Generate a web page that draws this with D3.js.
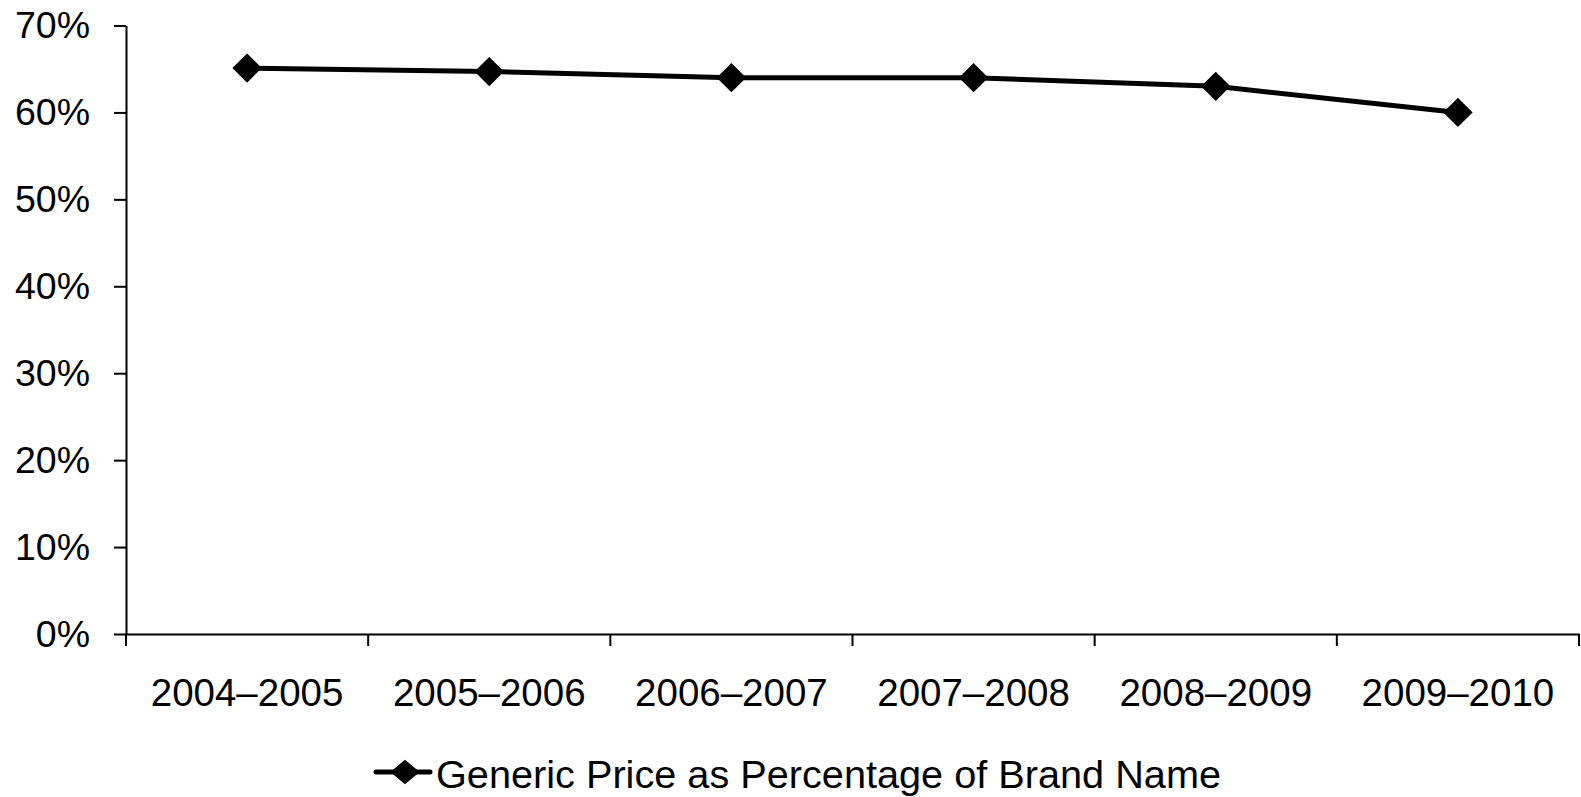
<!DOCTYPE html>
<html>
<head>
<meta charset="utf-8">
<script src="https://cdn.jsdelivr.net/npm/d3@7/dist/d3.min.js"></script>
<style>
  html, body { margin: 0; padding: 0; background: #fff; }
  svg { display: block; font-family: "Liberation Sans", Arial, sans-serif; }
</style>
</head>
<body>
<svg id="chart" width="1581" height="797"></svg>
<script>
const categories = ["2004–2005", "2005–2006", "2006–2007", "2007–2008", "2008–2009", "2009–2010"];
const values = [0.651, 0.647, 0.640, 0.640, 0.630, 0.600];
const yTicks = [0, 0.1, 0.2, 0.3, 0.4, 0.5, 0.6, 0.7];
const seriesName = "Generic Price as Percentage of Brand Name";

(function () {
const svg = d3.select("#chart");
const mLeft = 126, mRight = 1579, mTop = 25.5, mBottom = 634;

const x = d3.scaleBand().domain(categories).range([mLeft, mRight]);
const y = d3.scaleLinear().domain([0, 0.7]).range([mBottom, mTop]);

// Y axis
const yAxis = svg.append("g")
  .attr("transform", `translate(${mLeft},0)`)
  .call(d3.axisLeft(y).tickValues(yTicks).tickFormat(d3.format(".0%")).tickSize(12).tickSizeOuter(0).tickPadding(24));
yAxis.selectAll("text").attr("font-size", 37.5).attr("fill", "#000").attr("font-family", "Liberation Sans, Arial, sans-serif");
yAxis.selectAll("line").attr("stroke", "#000").attr("stroke-width", 2);
yAxis.select(".domain").attr("stroke", "#000").attr("stroke-width", 2);

// X axis (labels at band centres, no ticks)
const xAxis = svg.append("g")
  .attr("transform", `translate(0,${mBottom})`)
  .call(d3.axisBottom(x).tickSize(0).tickSizeOuter(0).tickPadding(45));
xAxis.selectAll("text").attr("font-size", 38.5).attr("fill", "#000").attr("font-family", "Liberation Sans, Arial, sans-serif");
xAxis.select(".domain").attr("stroke", "#000").attr("stroke-width", 2);

// Boundary ticks on x axis
const bounds = categories.map(c => x(c)).concat([x.range()[1]]);
svg.append("g").selectAll("line").data(bounds).join("line")
  .attr("x1", d => d).attr("x2", d => d)
  .attr("y1", mBottom).attr("y2", mBottom + 12)
  .attr("stroke", "#000").attr("stroke-width", 2);

// Line
const cx = c => x(c) + x.bandwidth() / 2;
const line = d3.line().x((d, i) => cx(categories[i])).y(d => y(d));
svg.append("path").datum(values)
  .attr("d", line)
  .attr("fill", "none").attr("stroke", "#000").attr("stroke-width", 5).attr("stroke-linejoin", "round");

// Diamonds
const diamond = d3.symbol().type(d3.symbolDiamond2).size(550);
svg.append("g").selectAll("path").data(values).join("path")
  .attr("d", diamond)
  .attr("transform", (d, i) => `translate(${cx(categories[i])},${y(d)})`)
  .attr("fill", "#000");

// Legend
const lg = svg.append("g");
lg.append("line").attr("x1", 376).attr("x2", 430).attr("y1", 772).attr("y2", 772)
  .attr("stroke", "#000").attr("stroke-width", 5).attr("stroke-linecap", "round");
lg.append("path").attr("d", d3.symbol().type(d3.symbolDiamond2).size(380))
  .attr("transform", "translate(405,772) scale(1.2,1)").attr("fill", "#000");
lg.append("text").attr("x", 436).attr("y", 788)
  .attr("font-size", 38).attr("fill", "#000")
  .attr("textLength", 785).attr("lengthAdjust", "spacingAndGlyphs")
  .text(seriesName);
})();
</script>
</body>
</html>
